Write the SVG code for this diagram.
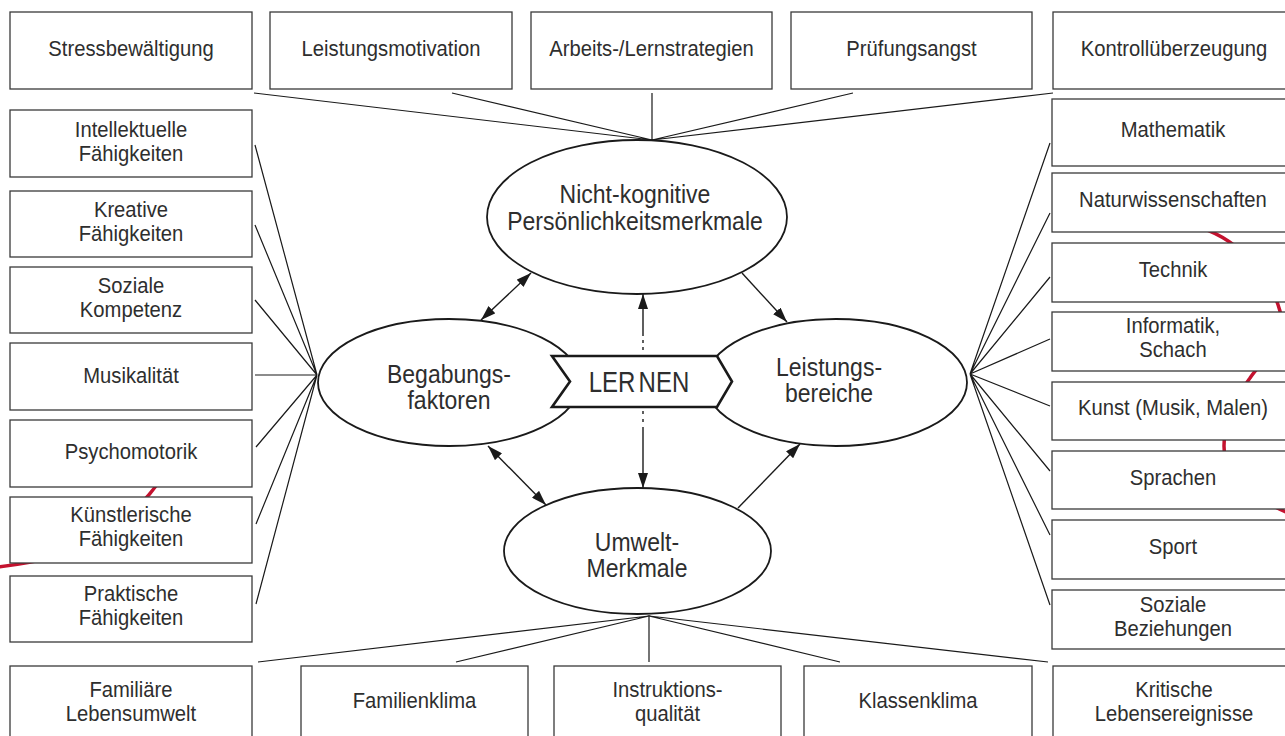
<svg xmlns="http://www.w3.org/2000/svg" width="1285" height="736" viewBox="0 0 1285 736">
<defs>
<style>
.box{fill:#fff;stroke:#3a3a3a;stroke-width:1.3}
.ell{fill:#fff;stroke:#1a1a1a;stroke-width:1.8}
.ln{fill:none;stroke:#1a1a1a;stroke-width:1.2}
.ar{fill:none;stroke:#1a1a1a;stroke-width:1.4}
.red{fill:none;stroke:#c4122f;stroke-width:3.5}
.t{font-family:"Liberation Sans",Arial,sans-serif;font-size:22px;fill:#2e2e2e;text-anchor:middle}
.e{font-family:"Liberation Sans",Arial,sans-serif;font-size:25px;fill:#2e2e2e;text-anchor:middle}
</style>
<marker id="ah" markerUnits="userSpaceOnUse" markerWidth="15" markerHeight="10" refX="15" refY="5" orient="auto-start-reverse" viewBox="0 0 15 10">
<path d="M0,0 L15,5 L0,10 z" fill="#1a1a1a"/>
</marker>
</defs>
<rect width="1285" height="736" fill="#fff"/>

<g id="decor">
<path class="red" d="M185 440 C165 480 140 510 105 535 C75 555 35 563 -10 568"/>
<path class="red" d="M1195 226 C1240 238 1275 280 1282 320 C1284 345 1262 360 1250 378 C1235 398 1224 420 1224 446 C1224 480 1255 500 1300 518"/>
</g>

<g id="connectors">
<path class="ln" d="M254 93 L652 140 M452 93 L652 140 M652 93 L652 140 M853 93 L652 140 M1053 93 L652 140"/>
<path class="ln" d="M255 145 L317 375 M255 225 L317 375 M255 300 L317 375 M255 375 L317 375 M256 447 L317 375 M256 524 L317 375 M256 604 L317 375"/>
<path class="ln" d="M1050 143 L970 374 M1050 213 L970 374 M1050 277 L970 374 M1050 339 L970 374 M1050 406 L970 374 M1050 471 L970 374 M1050 535 L970 374 M1050 605 L970 374"/>
<path class="ln" d="M258 662 L649 616 M456 662 L649 616 M649 662 L649 616 M840 662 L649 616 M1048 662 L649 616"/>
<path class="ar" d="M481 320 L531 273" marker-start="url(#ah)" marker-end="url(#ah)"/>
<path class="ar" d="M742 273 L787 322" marker-end="url(#ah)"/>
<path class="ar" d="M488 446 L546 505" marker-start="url(#ah)" marker-end="url(#ah)"/>
<path class="ar" d="M738 508 L800 444" marker-end="url(#ah)"/>
<path class="ar" d="M643 336 L643 294" marker-end="url(#ah)"/>
<path class="ar" d="M643 340 L643 343 M643 347 L643 350 M643 411 L643 414 M643 419 L643 422"/>
<path class="ar" d="M643 427 L643 488" marker-end="url(#ah)"/>
</g>

<g id="n-nichtkognitiv">
<ellipse class="ell" cx="637" cy="217" rx="150" ry="77"/>
<text class="e" transform="translate(635 0) scale(.92 1)"><tspan x="0" y="203">Nicht-kognitive</tspan><tspan x="0" y="230">Persönlichkeitsmerkmale</tspan></text>
</g>
<g id="n-begabung">
<ellipse class="ell" cx="449" cy="382.5" rx="131" ry="63.5"/>
<text class="e" transform="translate(449 0) scale(.92 1)"><tspan x="0" y="383">Begabungs-</tspan><tspan x="0" y="409">faktoren</tspan></text>
</g>
<g id="n-leistung">
<ellipse class="ell" cx="836" cy="382.5" rx="131" ry="63.5"/>
<text class="e" transform="translate(829 0) scale(.92 1)"><tspan x="0" y="376">Leistungs-</tspan><tspan x="0" y="402">bereiche</tspan></text>
</g>
<g id="n-umwelt">
<ellipse class="ell" cx="637.5" cy="551" rx="133.5" ry="63"/>
<text class="e" transform="translate(637 0) scale(.92 1)"><tspan x="0" y="551">Umwelt-</tspan><tspan x="0" y="577">Merkmale</tspan></text>
</g>
<g id="n-lernen">
<polygon points="552,356 717,356 732,381.5 717,407 552,407 570,381.5" fill="#fff" stroke="#1a1a1a" stroke-width="2.6" stroke-linejoin="miter"/>
<text class="e" style="font-size:30px" transform="translate(639 0) scale(.8 1)" y="392">LER<tspan dx="4">NEN</tspan></text>
</g>

<g id="n-stress"><rect class="box" x="10" y="12" width="242" height="77"/><text class="t" transform="translate(131 0) scale(.92 1)" y="56">Stressbewältigung</text></g>
<g id="n-leistungsmotivation"><rect class="box" x="270" y="12" width="242" height="77"/><text class="t" transform="translate(391 0) scale(.92 1)" y="56">Leistungsmotivation</text></g>
<g id="n-arbeits"><rect class="box" x="531" y="12" width="241" height="77"/><text class="t" transform="translate(651.5 0) scale(.92 1)" y="56">Arbeits-/Lernstrategien</text></g>
<g id="n-pruefung"><rect class="box" x="791" y="12" width="241" height="77"/><text class="t" transform="translate(911.5 0) scale(.92 1)" y="56">Prüfungsangst</text></g>
<g id="n-kontroll"><rect class="box" x="1053" y="12" width="242" height="77"/><text class="t" transform="translate(1174 0) scale(.92 1)" y="56">Kontrollüberzeugung</text></g>

<g id="n-intellektuell"><rect class="box" x="10" y="110" width="242" height="67"/><text class="t" transform="translate(131 0) scale(.92 1)"><tspan x="0" y="137">Intellektuelle</tspan><tspan x="0" y="161">Fähigkeiten</tspan></text></g>
<g id="n-kreativ"><rect class="box" x="10" y="191" width="242" height="66"/><text class="t" transform="translate(131 0) scale(.92 1)"><tspan x="0" y="217">Kreative</tspan><tspan x="0" y="241">Fähigkeiten</tspan></text></g>
<g id="n-sozialkomp"><rect class="box" x="10" y="267" width="242" height="66"/><text class="t" transform="translate(131 0) scale(.92 1)"><tspan x="0" y="293">Soziale</tspan><tspan x="0" y="317">Kompetenz</tspan></text></g>
<g id="n-musikalitaet"><rect class="box" x="10" y="343" width="242" height="67"/><text class="t" transform="translate(131 0) scale(.92 1)" y="383">Musikalität</text></g>
<g id="n-psychomotorik"><rect class="box" x="10" y="420" width="242" height="67"/><text class="t" transform="translate(131 0) scale(.92 1)" y="459">Psychomotorik</text></g>
<g id="n-kuenstlerisch"><rect class="box" x="10" y="497" width="242" height="66"/><text class="t" transform="translate(131 0) scale(.92 1)"><tspan x="0" y="522">Künstlerische</tspan><tspan x="0" y="546">Fähigkeiten</tspan></text></g>
<g id="n-praktisch"><rect class="box" x="10" y="576" width="242" height="66"/><text class="t" transform="translate(131 0) scale(.92 1)"><tspan x="0" y="601">Praktische</tspan><tspan x="0" y="625">Fähigkeiten</tspan></text></g>

<g id="n-mathematik"><rect class="box" x="1052" y="99" width="243" height="67"/><text class="t" transform="translate(1173 0) scale(.92 1)" y="137">Mathematik</text></g>
<g id="n-naturwiss"><rect class="box" x="1052" y="173" width="243" height="59"/><text class="t" transform="translate(1173 0) scale(.92 1)" y="207">Naturwissenschaften</text></g>
<g id="n-technik"><rect class="box" x="1052" y="243" width="243" height="59"/><text class="t" transform="translate(1173 0) scale(.92 1)" y="277">Technik</text></g>
<g id="n-informatik"><rect class="box" x="1052" y="312" width="243" height="59"/><text class="t" transform="translate(1173 0) scale(.92 1)"><tspan x="0" y="333">Informatik,</tspan><tspan x="0" y="357">Schach</tspan></text></g>
<g id="n-kunst"><rect class="box" x="1052" y="382" width="243" height="58"/><text class="t" transform="translate(1173 0) scale(.92 1)" y="415">Kunst (Musik, Malen)</text></g>
<g id="n-sprachen"><rect class="box" x="1052" y="451" width="243" height="58"/><text class="t" transform="translate(1173 0) scale(.92 1)" y="485">Sprachen</text></g>
<g id="n-sport"><rect class="box" x="1052" y="520" width="243" height="59"/><text class="t" transform="translate(1173 0) scale(.92 1)" y="554">Sport</text></g>
<g id="n-sozialbez"><rect class="box" x="1052" y="590" width="243" height="59"/><text class="t" transform="translate(1173 0) scale(.92 1)"><tspan x="0" y="612">Soziale</tspan><tspan x="0" y="636">Beziehungen</tspan></text></g>

<g id="n-familiaer"><rect class="box" x="10" y="666" width="242" height="78"/><text class="t" transform="translate(131 0) scale(.92 1)"><tspan x="0" y="697">Familiäre</tspan><tspan x="0" y="721">Lebensumwelt</tspan></text></g>
<g id="n-familienklima"><rect class="box" x="301" y="666" width="227" height="78"/><text class="t" transform="translate(414.5 0) scale(.92 1)" y="708">Familienklima</text></g>
<g id="n-instruktion"><rect class="box" x="554" y="666" width="227" height="78"/><text class="t" transform="translate(667.5 0) scale(.92 1)"><tspan x="0" y="697">Instruktions-</tspan><tspan x="0" y="721">qualität</tspan></text></g>
<g id="n-klassenklima"><rect class="box" x="804" y="666" width="228" height="78"/><text class="t" transform="translate(918 0) scale(.92 1)" y="708">Klassenklima</text></g>
<g id="n-kritisch"><rect class="box" x="1053" y="666" width="242" height="78"/><text class="t" transform="translate(1174 0) scale(.92 1)"><tspan x="0" y="697">Kritische</tspan><tspan x="0" y="721">Lebensereignisse</tspan></text></g>
</svg>
